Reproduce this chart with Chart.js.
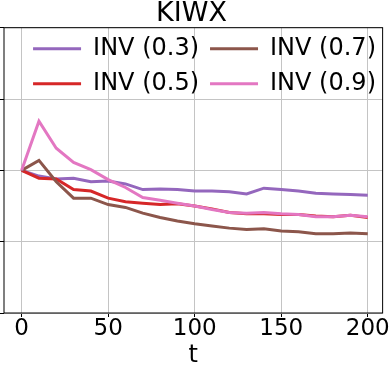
<!DOCTYPE html>
<html>
<head>
<meta charset="utf-8">
<script src="https://cdn.jsdelivr.net/npm/chart.js@4.4.1/dist/chart.umd.min.js"></script>
<style>
  body { margin: 0; background: #fff; }
  canvas { display: block; }
</style>
</head>
<body>
<canvas id="kiwxChart" width="391" height="366"></canvas>
<script>
const t = [0, 10, 20, 30, 40, 50, 60, 70, 80, 90, 100, 110, 120, 130, 140, 150, 160, 170, 180, 190, 200]

const inv03 = [1.000, 0.992, 0.988, 0.989, 0.984, 0.985, 0.981, 0.973, 0.974, 0.973, 0.971, 0.971, 0.970, 0.967, 0.975, 0.973, 0.971, 0.968, 0.967, 0.966, 0.965]
const inv05 = [1.000, 0.989, 0.988, 0.973, 0.971, 0.961, 0.956, 0.954, 0.952, 0.953, 0.950, 0.946, 0.941, 0.939, 0.939, 0.938, 0.938, 0.936, 0.935, 0.937, 0.934]
const inv07 = [1.000, 1.014, 0.984, 0.961, 0.961, 0.952, 0.948, 0.940, 0.934, 0.929, 0.925, 0.922, 0.919, 0.917, 0.918, 0.915, 0.914, 0.911, 0.911, 0.912, 0.911]
const inv09 = [1.000, 1.069, 1.031, 1.011, 1.001, 0.987, 0.976, 0.962, 0.958, 0.954, 0.950, 0.945, 0.941, 0.940, 0.941, 0.939, 0.938, 0.935, 0.935, 0.937, 0.935]

const xTicks = [0, 50, 100, 150, 200]

const toPoints = (ys) => ys.map((y, i) => ({ x: t[i], y: y }))

const line = (label, ys, color, order) => ({
  label: label,
  data: toPoints(ys),
  borderColor: color,
  backgroundColor: color,
  borderWidth: 3,
  pointRadius: 0,
  tension: 0,
  order: order,
})

// legend sits over the plot like matplotlib's, so it takes no height in the layout
const overlayLegend = {
  id: 'overlayLegend',
  beforeLayout(chart) {
    const lg = chart.legend
    if (lg && !lg._flat) {
      const fit = lg.fit
      lg.fit = function () {
        fit.call(this)
        this._realHeight = this.height
        this.height = 0
      }
      lg._flat = true
    }
  },
  afterLayout(chart) {
    const lg = chart.legend
    lg.top -= 2
    lg.bottom = lg.top + lg._realHeight
    lg.height = lg._realHeight
    lg.right += 4
  },
}

const frame = {
  id: 'frame',
  afterDraw(chart) {
    const { ctx, chartArea: a } = chart
    ctx.save()
    ctx.strokeStyle = '#000'
    ctx.lineWidth = 1
    ctx.strokeRect(a.left, a.top, a.right - a.left, a.bottom - a.top)
    ctx.restore()
  },
}

new Chart('kiwxChart', {
  type: 'line',
  data: {
    datasets: [
      line('INV (0.3)', inv03, '#9467bd', 3),
      line('INV (0.7)', inv07, '#8c564b', 1),
      line('INV (0.5)', inv05, '#d62728', 2),
      line('INV (0.9)', inv09, '#e377c2', 0),
    ],
  },
  options: {
    responsive: false,
    animation: false,
    layout: { padding: { left: 0, right: 8, top: 0, bottom: 0 } },
    font: { family: 'DejaVu Sans' },
    plugins: {
      title: {
        display: true,
        text: 'KIWX',
        color: '#000',
        font: { family: 'DejaVu Sans', size: 27, weight: 'normal', lineHeight: '29.7px' },
        padding: { top: -1, bottom: -1 },
      },
      legend: {
        display: true,
        position: 'top',
        align: 'end',
        labels: {
          color: '#000',
          font: { family: 'DejaVu Sans', size: 24 },
          usePointStyle: true,
          pointStyle: 'line',
          pointStyleWidth: 48,
          padding: 11,
          sort: (a, b) => a.datasetIndex - b.datasetIndex,
        },
      },
      tooltip: { enabled: false },
    },
    scales: {
      x: {
        type: 'linear',
        min: -10.2,
        max: 208.6,
        afterBuildTicks: (axis) => {
          axis.ticks = xTicks.map((v) => ({ value: v }))
        },
        ticks: {
          color: '#000',
          font: { family: 'DejaVu Sans', size: 23, lineHeight: 1 },
          padding: 1,
          maxRotation: 0,
        },
        grid: { color: '#c4c4c4', lineWidth: 1, tickColor: '#000', tickLength: 4 },
        border: { display: false },
        title: {
          display: true,
          text: 't',
          color: '#000',
          font: { family: 'DejaVu Sans', size: 24, lineHeight: 1 },
          padding: { top: 2, bottom: -2 },
        },
      },
      y: {
        min: 0.8,
        max: 1.2,
        ticks: { display: false, stepSize: 0.1 },
        grid: { color: '#c4c4c4', lineWidth: 1, tickColor: '#000', tickLength: 4 },
        border: { display: false },
      },
    },
  },
  plugins: [overlayLegend, frame],
})
</script>
</body>
</html>
